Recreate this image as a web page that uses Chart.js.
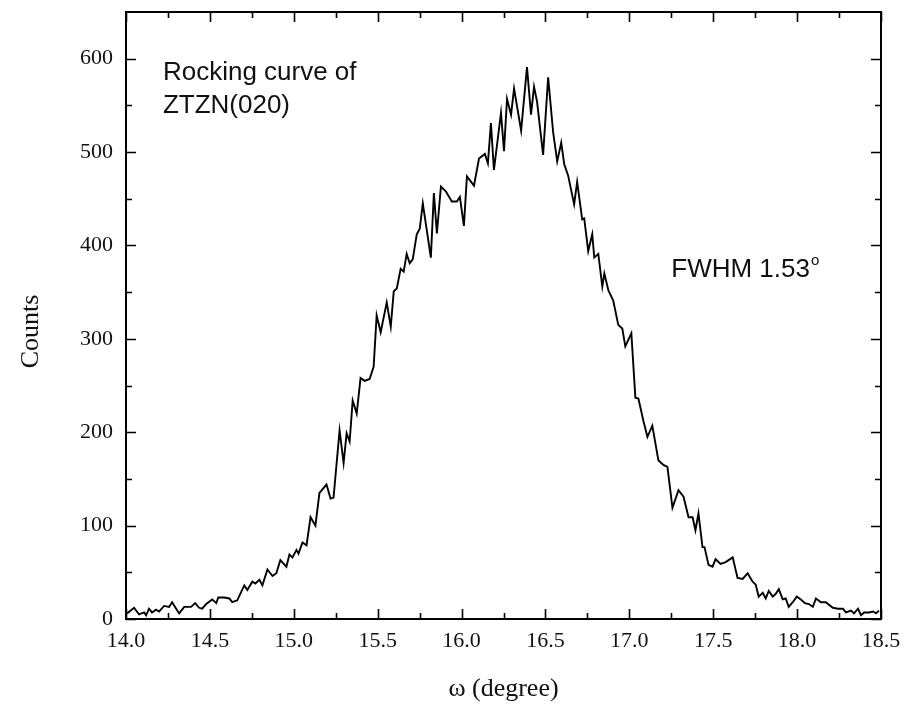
<!DOCTYPE html>
<html>
<head>
<meta charset="utf-8">
<script src="https://cdn.jsdelivr.net/npm/chart.js@4/dist/chart.umd.min.js"></script>
<style>
  html, body { margin: 0; padding: 0; background: #fff; }
  #wrap { width: 904px; height: 704px; position: relative; }
</style>
</head>
<body>
<div id="wrap"><canvas id="c" width="904" height="704"></canvas></div>
<script>
// ---- data ----
const omega = [
  14.006,14.048,14.078,14.108,14.120,14.137,14.155,14.179,14.197,14.227,
  14.257,14.275,14.299,14.317,14.347,14.388,14.412,14.436,14.454,14.478,
  14.514,14.538,14.550,14.586,14.616,14.633,14.663,14.705,14.723,14.753,
  14.771,14.795,14.813,14.843,14.873,14.896,14.920,14.956,14.974,14.992,
  15.016,15.028,15.052,15.076,15.100,15.129,15.153,15.195,15.219,15.237,
  15.273,15.297,15.315,15.333,15.351,15.375,15.398,15.422,15.452,15.476,
  15.494,15.518,15.554,15.578,15.596,15.614,15.637,15.655,15.673,15.691,
  15.709,15.733,15.751,15.769,15.817,15.835,15.853,15.877,15.906,15.942,
  15.972,15.990,16.014,16.032,16.074,16.104,16.139,16.157,16.175,16.193,
  16.235,16.253,16.271,16.295,16.313,16.355,16.390,16.414,16.432,16.450,
  16.486,16.516,16.546,16.570,16.594,16.612,16.635,16.671,16.689,16.719,
  16.731,16.755,16.779,16.791,16.815,16.839,16.851,16.875,16.904,16.934,
  16.958,16.976,17.012,17.036,17.054,17.084,17.108,17.137,17.173,17.203,
  17.227,17.257,17.293,17.323,17.353,17.377,17.394,17.412,17.436,17.448,
  17.472,17.496,17.514,17.544,17.574,17.616,17.645,17.675,17.705,17.735,
  17.753,17.771,17.795,17.813,17.831,17.855,17.873,17.891,17.914,17.932,
  17.950,17.974,17.998,18.022,18.046,18.070,18.094,18.112,18.142,18.171,
  18.213,18.243,18.273,18.291,18.321,18.339,18.363,18.381,18.399,18.429,
  18.453,18.470,18.488
];
const counts = [
  6,12,5,7,4,11,7,10,8,14,
  13,18,11,6,13,13,17,12,11,16,
  21,17,23,23,22,18,20,36,31,40,
  38,42,36,53,46,49,63,56,69,66,
  74,70,82,79,109,100,135,144,129,130,
  202,167,199,190,234,220,258,255,257,270,
  325,307,339,313,351,354,375,372,391,381,
  385,412,418,445,387,456,413,463,458,447,
  447,452,421,474,464,493,498,488,531,481,
  542,501,557,540,568,523,591,540,570,554,
  497,580,521,490,510,487,475,444,468,428,
  429,394,412,387,391,356,370,352,341,315,
  311,292,306,237,236,212,195,207,170,165,
  163,119,138,131,109,109,95,113,77,77,
  58,56,64,59,61,66,44,43,49,40,
  37,24,28,22,30,24,27,32,21,22,
  13,18,24,21,17,16,13,22,18,18,
  12,11,11,7,9,6,11,4,7,7,
  8,6,9
];
const xTicks = [14.0,14.5,15.0,15.5,16.0,16.5,17.0,17.5,18.0,18.5];
const yTicks = [0,100,200,300,400,500,600];
const xRange = [14.0, 18.5];
const yRange = [0, 650];
const xTitle = "\u03c9 (degree)";
const yTitle = "Counts";
const note1 = ["Rocking curve of", "ZTZN(020)"];
const note2 = "FWHM 1.53";
const note2Sup = "o";

const points = omega.map((x, i) => ({ x: x, y: counts[i] }));

const serif = "'Liberation Serif', 'Times New Roman', serif";
const sans = "'Liberation Sans', Arial, sans-serif";

const frameAndTicks = {
  id: 'frameAndTicks',
  afterDraw(chart) {
    const { ctx, chartArea: a, scales: { x, y } } = chart;
    ctx.save();
    ctx.strokeStyle = '#000';
    ctx.lineWidth = 2;
    ctx.strokeRect(a.left, a.top, a.right - a.left, a.bottom - a.top);
    ctx.lineWidth = 1.6;
    const major = 10, minor = 6;
    ctx.beginPath();
    for (let i = 0; i < xTicks.length; i++) {
      const px = Math.round(x.getPixelForValue(xTicks[i])) + 0.5;
      ctx.moveTo(px, a.bottom); ctx.lineTo(px, a.bottom - major);
      ctx.moveTo(px, a.top); ctx.lineTo(px, a.top + major);
      if (i < xTicks.length - 1) {
        const mx = Math.round(x.getPixelForValue((xTicks[i] + xTicks[i + 1]) / 2)) + 0.5;
        ctx.moveTo(mx, a.bottom); ctx.lineTo(mx, a.bottom - minor);
        ctx.moveTo(mx, a.top); ctx.lineTo(mx, a.top + minor);
      }
    }
    for (let i = 0; i < yTicks.length; i++) {
      const py = Math.round(y.getPixelForValue(yTicks[i])) + 0.5;
      ctx.moveTo(a.left, py); ctx.lineTo(a.left + major, py);
      ctx.moveTo(a.right, py); ctx.lineTo(a.right - major, py);
      const mv = yTicks[i] + 50;
      if (mv < yRange[1]) {
        const my = Math.round(y.getPixelForValue(mv)) + 0.5;
        ctx.moveTo(a.left, my); ctx.lineTo(a.left + minor, my);
        ctx.moveTo(a.right, my); ctx.lineTo(a.right - minor, my);
      }
    }
    ctx.stroke();

    // y-axis title
    ctx.fillStyle = '#111';
    ctx.save();
    ctx.translate(31, y.getPixelForValue(308));
    ctx.rotate(-Math.PI / 2);
    ctx.textAlign = 'center';
    ctx.textBaseline = 'middle';
    ctx.font = '26px ' + serif;
    ctx.fillText(yTitle, 0, 0);
    ctx.restore();

    // annotations
    ctx.textBaseline = 'alphabetic';
    ctx.textAlign = 'left';
    ctx.font = '26px ' + sans;
    const ax = x.getPixelForValue(14.22);
    ctx.fillText(note1[0], ax, y.getPixelForValue(577));
    ctx.fillText(note1[1], ax, y.getPixelForValue(542));
    const fx = x.getPixelForValue(17.25);
    const fy = y.getPixelForValue(366);
    ctx.fillText(note2, fx, fy);
    const w = ctx.measureText(note2).width;
    ctx.font = '15px ' + sans;
    ctx.fillText(note2Sup, fx + w + 1, fy - 12);
    ctx.restore();
  }
};

function noAutoPad(s) {
  s.paddingTop = 0; s.paddingBottom = 0; s.paddingLeft = 0; s.paddingRight = 0;
}

new Chart(document.getElementById('c'), {
  type: 'scatter',
  data: {
    datasets: [{
      data: points,
      showLine: true,
      borderColor: '#000',
      borderWidth: 1.9,
      pointRadius: 0,
      pointHoverRadius: 0,
      tension: 0,
      fill: false
    }]
  },
  options: {
    responsive: false,
    animation: false,
    events: [],
    layout: { padding: { left: 0, right: 23, top: 12, bottom: 0 } },
    plugins: { legend: { display: false }, tooltip: { enabled: false } },
    scales: {
      x: {
        type: 'linear',
        min: xRange[0], max: xRange[1],
        afterBuildTicks: (s) => { s.ticks = xTicks.map(v => ({ value: v })); },
        afterFit: (s) => { s.height = 85; noAutoPad(s); },
        grid: { display: false, drawTicks: false },
        border: { display: false },
        ticks: {
          color: '#111', padding: 9, maxRotation: 0, autoSkip: false,
          font: { family: serif, size: 22 },
          callback: (v) => Number(v).toFixed(1)
        },
        title: {
          display: true, text: xTitle, color: '#111',
          font: { family: serif, size: 26, lineHeight: 1 },
          padding: { top: 0, bottom: 2 }
        }
      },
      y: {
        type: 'linear',
        min: yRange[0], max: yRange[1],
        afterBuildTicks: (s) => { s.ticks = yTicks.map(v => ({ value: v })); },
        afterFit: (s) => { s.width = 126; noAutoPad(s); },
        grid: { display: false, drawTicks: false },
        border: { display: false },
        ticks: {
          color: '#111', padding: 13, autoSkip: false,
          font: { family: serif, size: 22 },
          callback: (v) => String(v)
        },
        title: { display: false, text: yTitle }
      }
    }
  },
  plugins: [frameAndTicks]
});
</script>
</body>
</html>
